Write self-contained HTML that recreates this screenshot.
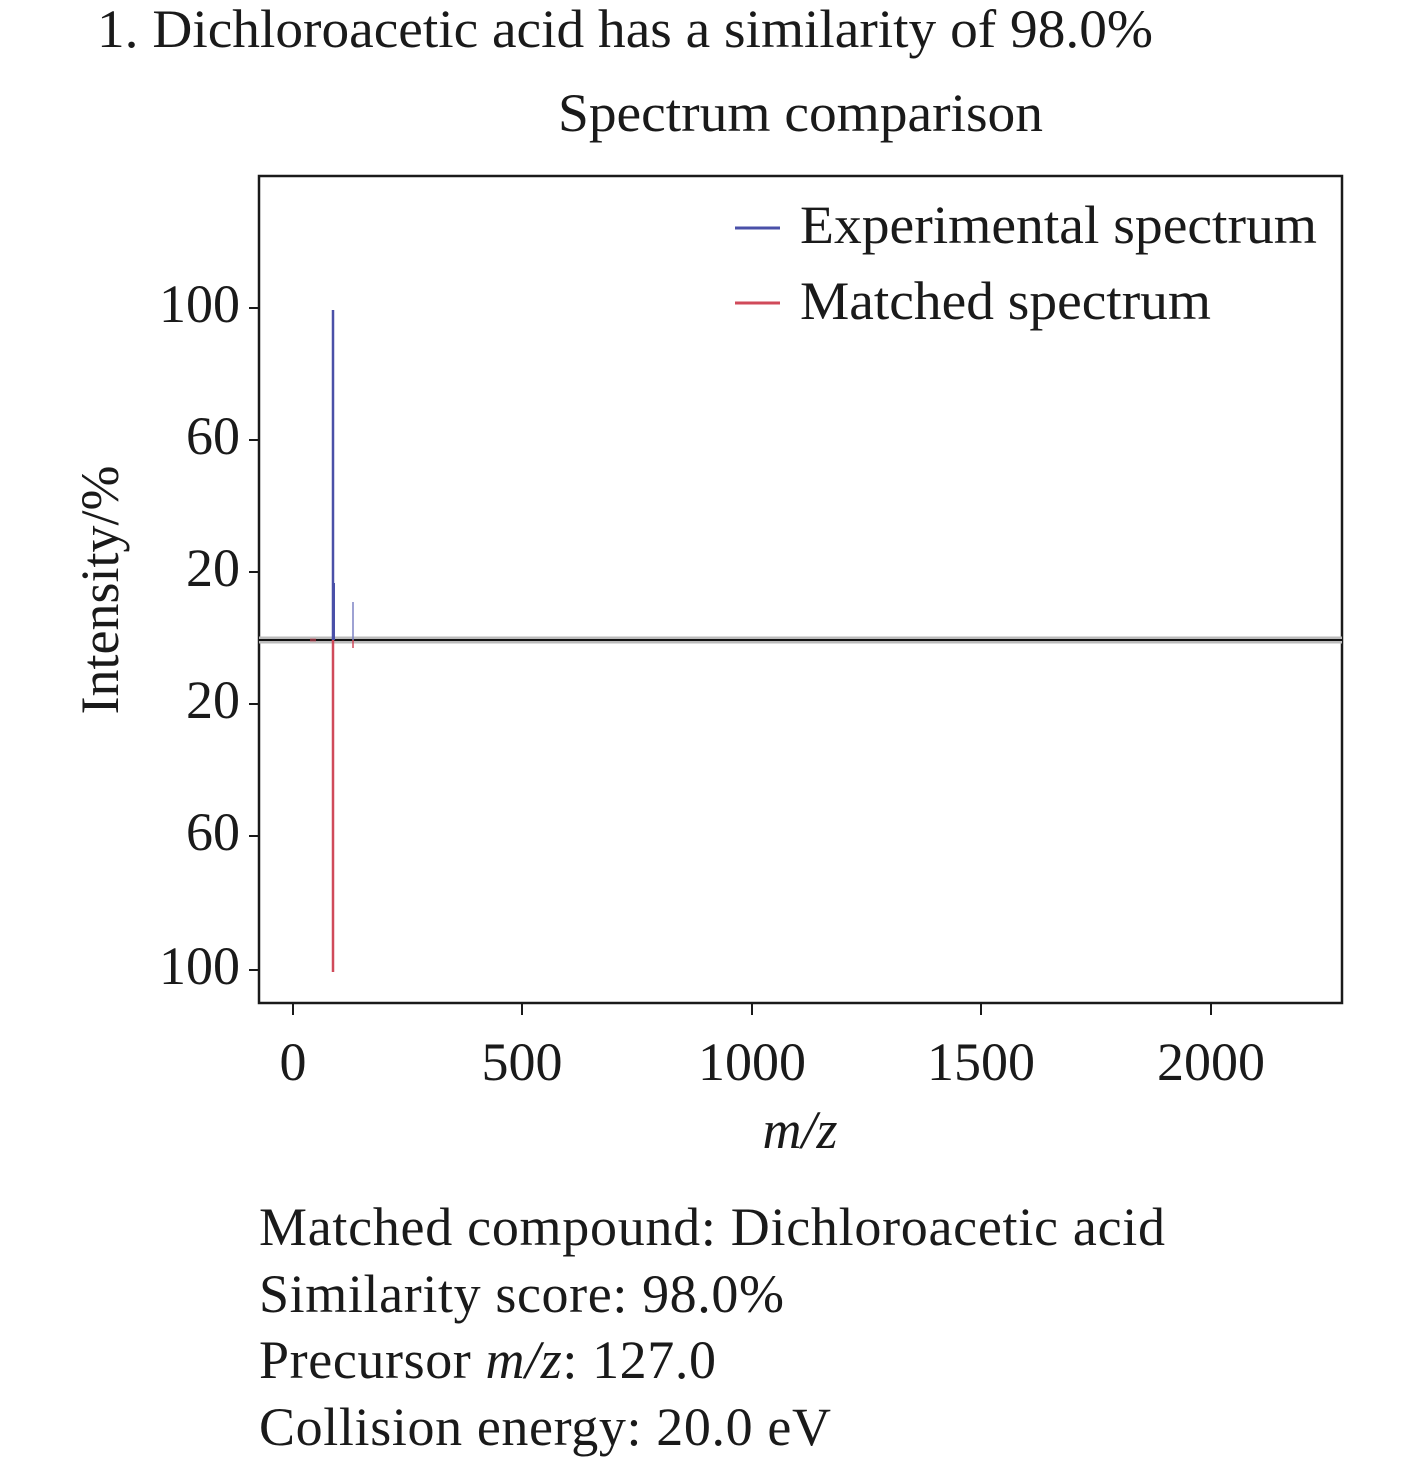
<!DOCTYPE html>
<html><head><meta charset="utf-8"><style>
body{margin:0;background:#fff;}
svg text{font-family:"Liberation Serif",serif;fill:#1a1a1a;}
</style></head><body>
<svg width="1417" height="1462" xmlns="http://www.w3.org/2000/svg">
<text x="97" y="47" font-size="54" textLength="1056" lengthAdjust="spacingAndGlyphs">1. Dichloroacetic acid has a similarity of 98.0%</text>
<text x="558" y="131" font-size="54" textLength="485" lengthAdjust="spacingAndGlyphs">Spectrum comparison</text>
<rect x="259" y="176" width="1083" height="827" fill="none" stroke="#1a1a1a" stroke-width="2.5"/>
<line x1="259" y1="640" x2="1342" y2="640" stroke="#bbb" stroke-width="7"/>
<line x1="259" y1="640" x2="1342" y2="640" stroke="#111" stroke-width="2"/>
<line x1="333" y1="310" x2="333" y2="640" stroke="#4a50a8" stroke-width="2.5"/>
<line x1="334" y1="583" x2="334" y2="640" stroke="#4a50a8" stroke-width="2"/>
<line x1="353" y1="602" x2="353" y2="640" stroke="#7d82c4" stroke-width="1.5"/>
<line x1="333" y1="640" x2="333" y2="972" stroke="#d04a5a" stroke-width="2.5"/>
<line x1="353" y1="640" x2="353" y2="648" stroke="#d04a5a" stroke-width="1.5"/>
<line x1="310" y1="640" x2="316" y2="640" stroke="#d04a5a" stroke-width="3" opacity="0.6"/>
<g stroke="#1a1a1a" stroke-width="2">
<line x1="259" y1="308" x2="249" y2="308"/><line x1="259" y1="440" x2="249" y2="440"/><line x1="259" y1="572" x2="249" y2="572"/>
<line x1="259" y1="704" x2="249" y2="704"/><line x1="259" y1="836" x2="249" y2="836"/><line x1="259" y1="970" x2="249" y2="970"/>
<line x1="293" y1="1003" x2="293" y2="1015"/><line x1="522" y1="1003" x2="522" y2="1015"/><line x1="752" y1="1003" x2="752" y2="1015"/>
<line x1="981" y1="1003" x2="981" y2="1015"/><line x1="1211" y1="1003" x2="1211" y2="1015"/>
</g>
<g font-size="54" text-anchor="end">
<text x="240" y="322">100</text><text x="240" y="454">60</text><text x="240" y="586">20</text>
<text x="240" y="718">20</text><text x="240" y="850">60</text><text x="240" y="984">100</text>
</g>
<g font-size="54" text-anchor="middle">
<text x="293" y="1080">0</text><text x="522" y="1080">500</text><text x="752" y="1080">1000</text>
<text x="981" y="1080">1500</text><text x="1211" y="1080">2000</text>
</g>
<text x="800" y="1148" font-size="54" text-anchor="middle" font-style="italic">m/z</text>
<text transform="translate(118,590) rotate(-90)" font-size="54" text-anchor="middle">Intensity/%</text>
<line x1="735" y1="228" x2="780" y2="228" stroke="#4a50a8" stroke-width="3"/>
<text x="800" y="243" font-size="54" textLength="517" lengthAdjust="spacingAndGlyphs">Experimental spectrum</text>
<line x1="735" y1="303" x2="780" y2="303" stroke="#d04a5a" stroke-width="3"/>
<text x="800" y="319" font-size="54" textLength="411" lengthAdjust="spacingAndGlyphs">Matched spectrum</text>
<g font-size="54" lengthAdjust="spacingAndGlyphs">
<text x="259" y="1245" textLength="906">Matched compound: Dichloroacetic acid</text>
<text x="259" y="1312" textLength="525">Similarity score: 98.0%</text>
<text x="259" y="1378" textLength="457">Precursor <tspan font-style="italic">m/z</tspan>: 127.0</text>
<text x="259" y="1445" textLength="572">Collision energy: 20.0 eV</text>
</g>
</svg>
</body></html>
